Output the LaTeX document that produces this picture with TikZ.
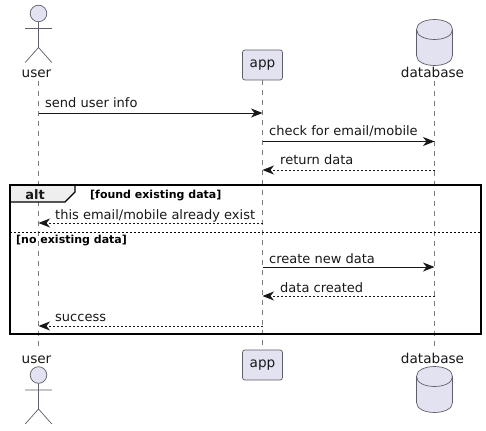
\documentclass[tikz,border=0pt]{standalone}
\usepackage{fontspec}
\setmainfont{DejaVu Sans}
\usetikzlibrary{arrows.meta}
\definecolor{partfill}{HTML}{E2E2F0}
\definecolor{partline}{HTML}{5F5F6B}
\definecolor{lifeline}{HTML}{7A7A80}
\definecolor{tabfill}{HTML}{EEEEEE}
\definecolor{ink}{HTML}{181818}
\tikzset{
  x=1pt,y=-1pt,
  lbl/.style={font=\fontsize{13}{15}\selectfont,text=ink,inner sep=0pt},
  partlbl/.style={font=\fontsize{13.6}{15}\selectfont,text=ink,inner sep=0pt},
  msglabel/.style={lbl,anchor=base west},
  guard/.style={font=\fontsize{11}{12}\selectfont\bfseries,text=black,inner sep=0pt,anchor=base west},
  partbox/.style={draw=partline,fill=partfill,rounded corners=2.5pt,line width=0.7pt,minimum width=40pt,minimum height=30pt,inner sep=0pt,partlbl},
  figure/.style={draw=partline,line width=0.7pt},
  life/.style={draw=lifeline,line width=0.6pt,dash pattern=on 5pt off 5pt},
  tip/.style={-{Stealth[length=11.5pt,width=9pt,inset=3.5pt]}},
  sync/.style={draw=ink,line width=0.9pt,tip},
  reply/.style={draw=ink,line width=0.8pt,tip,dash pattern=on 2pt off 2pt},
  frameline/.style={draw=black,line width=1.4pt},
}
\newcommand{\actorfig}[2]{%
  \draw[figure,fill=partfill] (#1,#2) circle[radius=8.3];
  \draw[figure] (#1,#2+8.3) -- (#1,#2+34) (#1-13.3,#2+15) -- (#1+13.3,#2+15)
    (#1-13.3,#2+49) -- (#1,#2+34) -- (#1+13.3,#2+49);
}
\newcommand{\dbfig}[2]{%
  \draw[figure,fill=partfill] (#1-18,#2+10) .. controls (#1-18,#2-3.3) and (#1+18,#2-3.3) .. (#1+18,#2+10)
    -- (#1+18,#2+36) .. controls (#1+18,#2+49.3) and (#1-18,#2+49.3) .. (#1-18,#2+36) -- cycle;
  \draw[figure] (#1-18,#2+10) .. controls (#1-18,#2+23.3) and (#1+18,#2+23.3) .. (#1+18,#2+10);
}
\begin{document}
\begin{tikzpicture}
\useasboundingbox (0,0) rectangle (486,430);
\fill[white] (0,0) rectangle (486,430);

% lifelines
\node[partlbl,anchor=base] (usertop) at (36.5,78) {user};
\node[partbox] (apptop) at (262.5,65) {app};
\node[partlbl,anchor=base] (dbtop) at (432.5,78) {database};
\node[partlbl,anchor=base] (userbot) at (36.5,363) {user};
\node[partbox] (appbot) at (262.5,365) {app};
\node[partlbl,anchor=base] (dbbot) at (432.5,363) {database};
\coordinate (ua) at (38.5,81);
\coordinate (ub) at (38.5,350);
\coordinate (da) at (434.5,81);
\coordinate (db) at (434.5,350);
\draw[life] (ua) -- (ub);
\draw[life] (apptop.south) -- (appbot.north);
\draw[life] (da) -- (db);

% participants
\actorfig{38.5}{13.5}
\actorfig{38.5}{375}
\dbfig{434.5}{19.5}
\dbfig{434.5}{366.5}

% messages
\foreach \n/\y in {a/113,b/141.5,c/170,d/223,e/267,f/296,g/326}{
  \coordinate (u\n) at (38.5,\y);
  \coordinate (p\n) at (262.5,\y);
  \coordinate (d\n) at (434.5,\y);
}
\draw[sync] (ua) -- (ua |- pa) -- (pa);
\draw[sync] (pb) -- (db |- pb);
\draw[reply] (dc) -- (pc);
\draw[reply] (pd) -- (ud);
\draw[sync] (pe) -- (de);
\draw[reply] (df) -- (pf);
\draw[reply] (pg) -- (ug);

\node[msglabel] (m1) at (45,108) {send user info};
\node[msglabel] (m2) at (269,136) {check for email/mobile};
\node[msglabel] (m3) at (280,165) {return data};
\node[msglabel] (m4) at (55,219) {this email/mobile already exist};
\node[msglabel] (m5) at (269,263) {create new data};
\node[msglabel] (m6) at (280,292) {data created};
\node[msglabel] (m7) at (55,321) {success};

% alt frame
\draw[frameline,fill=tabfill] (10,185) -- (75,185) -- (75,192) -- (65,202) -- (10,202) -- cycle;
\draw[frameline] (10,185) rectangle (481,334);
\draw[draw=black,line width=0.8pt,dash pattern=on 2pt off 2pt] (10,232) -- (481,232);
\node[lbl,font=\fontsize{13}{15}\selectfont\bfseries,anchor=base] (altlbl) at (35,199) {alt};
\node[guard] (g1) at (90,198) {[found existing data]};
\node[guard] (g2) at (16,243) {[no existing data]};
\end{tikzpicture}
\end{document}
